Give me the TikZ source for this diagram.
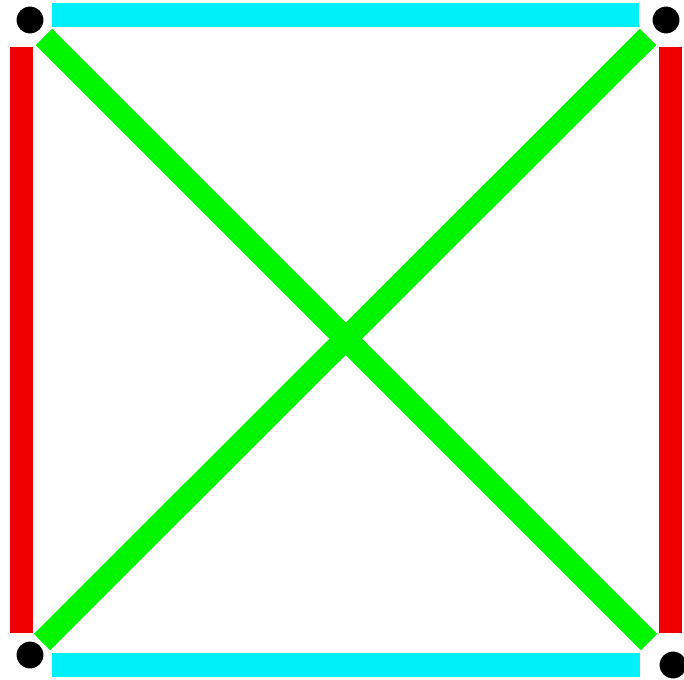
\documentclass[tikz,border=0pt]{standalone}
\definecolor{barcyan}{RGB}{0,240,250}
\definecolor{barred}{RGB}{240,0,0}
\definecolor{bargreen}{RGB}{0,245,0}
\tikzset{
  dotnode/.style={circle,fill=black,draw=white,line width=3pt,minimum size=30pt,inner sep=0pt},
  hbar/.style={fill=barcyan},
  vbar/.style={fill=barred},
  diag/.style={draw=bargreen,line width=23pt,line cap=butt}
}
\begin{document}
\begin{tikzpicture}[x=1pt,y=-1pt]
\useasboundingbox (0,0) rectangle (684,679);
\fill[white] (0,0) rectangle (684,679);
% bars
\fill[hbar] (52,3) rectangle (639,27);
\fill[hbar] (52,653) rectangle (640,677);
\fill[vbar] (10,47) rectangle (33,633);
\fill[vbar] (659,47) rectangle (682,633);
% diagonals
\coordinate (d1a) at (44,37);
\coordinate (d1b) at (649,642);
\coordinate (d2a) at (648,37);
\coordinate (d2b) at (42,642);
\draw[diag] (d1a) -- (d1b);
\draw[diag] (d2a) -- (d2b);
% corner dots
\node[dotnode] (tl) at (30,20) {};
\node[dotnode] (tr) at (666,20) {};
\node[dotnode] (bl) at (30,655) {};
\node[dotnode] (br) at (673,665) {};
\end{tikzpicture}
\end{document}
